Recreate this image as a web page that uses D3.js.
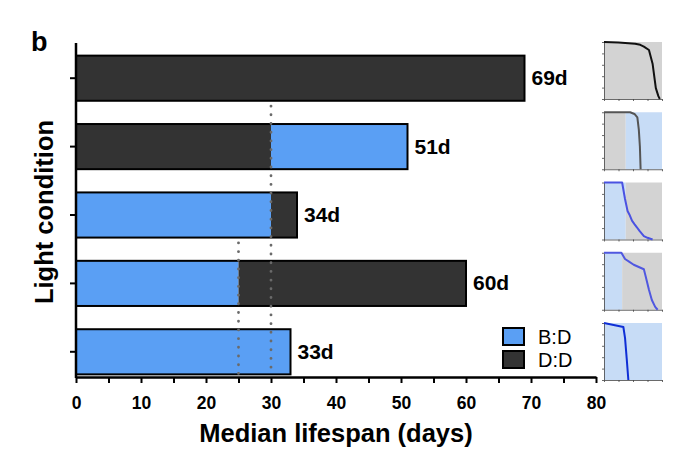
<!DOCTYPE html>
<html>
<head>
<meta charset="utf-8">
<script src="https://cdn.jsdelivr.net/npm/d3@7"></script>
<style>
  body { margin: 0; background: #fff; }
  svg { font-family: "Liberation Sans", Arial, sans-serif; }
</style>
</head>
<body>
<div id="chart"></div>
<script>

// rows from top to bottom
const conditions = ["D:D", "D:D to B:D", "B:D to D:D", "B:D to D:D (day 25)", "B:D"];
const firstLight = ["D:D", "D:D", "B:D", "B:D", "B:D"];
const switchDay = [null, 30, 30, 25, null];
const medianDays = [69, 51, 34, 60, 33];
const xTicks = [0, 10, 20, 30, 40, 50, 60, 70, 80];
const legendKeys = ["B:D", "D:D"];

// survival curves for the small panels: [day, fraction alive]
const curveDD = [[0, 1], [20, 0.99], [43, 0.97], [50, 0.95], [55, 0.92], [62, 0.86], [67, 0.62], [71.5, 0.19], [75, 0.05], [77, 0]];
const curveDDtoBD = [[0, 1], [36, 1], [42, 0.97], [46, 0.91], [48, 0.7], [49.5, 0.4], [50.5, 0]];
const curveBDtoDD = [[0, 1], [25, 1], [29, 0.71], [32.5, 0.5], [35, 0.44], [38.6, 0.33], [42, 0.27], [45.6, 0.21], [49, 0.15], [55, 0.06], [60, 0.03], [67, 0]];
const curveBD25 = [[0, 1], [24, 1], [29, 0.89], [34, 0.85], [41, 0.79], [48, 0.75], [55, 0.71], [57, 0.61], [62, 0.35], [66, 0.17], [70.6, 0.05], [74, 0]];
const curveBD = [[0, 1], [26.7, 0.93], [29, 0.74], [31.3, 0.38], [33.6, 0]];
const curves = [curveDD, curveDDtoBD, curveBDtoDD, curveBD25, curveBD];
const curveColors = ["#111111", "#555555", "#4a52e2", "#5058e0", "#0f2fd6"];

const fillColor = { "B:D": "#5a9ff4", "D:D": "#333333" };
const panelBg = { "B:D": "#c7dcf6", "D:D": "#d3d3d3" };

const width = 700, height = 460;
const margin = { top: 43, left: 76, bottom: 377, right: 596 };

const svg = d3.select("#chart").append("svg")
  .attr("width", width)
  .attr("height", height);

var x = d3.scaleLinear()
  .domain([0, 80])
  .range([margin.left, margin.right]);

var y = d3.scaleBand()
  .domain(conditions)
  .range([44, 386])
  .paddingInner(0.34)
  .paddingOuter(0.17);

// bar segments built from the arrays
const segments = [];
conditions.forEach(function(c, i) {
  const other = firstLight[i] == "B:D" ? "D:D" : "B:D";
  const cut = switchDay[i] == null ? medianDays[i] : switchDay[i];
  segments.push({ cond: c, from: 0, to: cut, light: firstLight[i] });
  if (switchDay[i] != null) {
    segments.push({ cond: c, from: cut, to: medianDays[i], light: other });
  }
});

svg.selectAll(".seg")
  .data(segments)
  .enter().append("rect")
  .attr("class", "seg")
  .attr("x", function(d) { return x(d.from); })
  .attr("y", function(d) { return y(d.cond); })
  .attr("width", function(d) { return x(d.to) - x(d.from); })
  .attr("height", y.bandwidth())
  .attr("fill", function(d) { return fillColor[d.light]; });

// outline of whole bar
svg.selectAll(".bar-outline")
  .data(conditions)
  .enter().append("rect")
  .attr("class", "bar-outline")
  .attr("x", x(0))
  .attr("y", function(d) { return y(d); })
  .attr("width", function(d, i) { return x(medianDays[i]) - x(0); })
  .attr("height", y.bandwidth())
  .attr("fill", "none")
  .attr("stroke", "#000")
  .attr("stroke-width", 2);

// dotted lines at the switch days
const switches = [];
conditions.forEach(function(c, i) {
  if (switchDay[i] != null && !switches.some(function(s) { return s.day == switchDay[i]; })) {
    switches.push({ day: switchDay[i], cond: c });
  }
});

svg.selectAll(".switch")
  .data(switches)
  .enter().append("line")
  .attr("class", "switch")
  .attr("x1", function(d) { return x(d.day); })
  .attr("x2", function(d) { return x(d.day); })
  .attr("y1", function(d) { return y(d.cond) - 18; })
  .attr("y2", margin.bottom - 2)
  .attr("stroke", "#6a6a6a")
  .attr("stroke-width", 2.8)
  .attr("stroke-linecap", "round")
  .attr("stroke-dasharray", "0.1,8.6");

// value labels
svg.selectAll(".val")
  .data(conditions)
  .enter().append("text")
  .attr("class", "val")
  .attr("x", function(d, i) { return x(medianDays[i]) + 7; })
  .attr("y", function(d) { return y(d) + y.bandwidth() / 2 + 7; })
  .attr("font-size", 21)
  .attr("font-weight", "bold")
  .text(function(d, i) { return medianDays[i] + "d"; });

// x axis
var xAxis = d3.axisBottom(x)
  .tickValues(d3.range(0, 81, 5))
  .tickSize(6)
  .tickSizeOuter(0)
  .tickFormat(function(d) { return xTicks.indexOf(d) >= 0 ? d : ""; });

const gx = svg.append("g")
  .attr("transform", "translate(0," + margin.bottom + ")")
  .call(xAxis);
gx.select(".domain").attr("stroke-width", 2.5);
gx.selectAll(".tick line").attr("stroke-width", 2);
gx.selectAll(".tick text")
  .attr("dy", "0.71em")
  .attr("y", 20)
  .attr("font-size", 17.5)
  .attr("font-weight", "bold")
  .attr("font-family", "Liberation Sans, Arial, sans-serif")
  .attr("fill", "#000");

// y axis
var yAxis = d3.axisLeft(y)
  .tickSize(6)
  .tickFormat("");

const gy = svg.append("g")
  .attr("transform", "translate(" + margin.left + ",0)")
  .call(yAxis);
gy.select(".domain").remove();
gy.selectAll(".tick line").attr("stroke-width", 2);
gy.append("line")
  .attr("x1", 0).attr("x2", 0)
  .attr("y1", margin.top)
  .attr("y2", margin.bottom + 1)
  .attr("stroke", "#000")
  .attr("stroke-width", 2.5);

// axis titles
svg.append("text")
  .attr("x", (x(0) + x(80)) / 2)
  .attr("y", 442)
  .attr("text-anchor", "middle")
  .attr("font-size", 25.5)
  .attr("font-weight", "bold")
  .text("Median lifespan (days)");

svg.append("text")
  .attr("transform", "translate(53," + 212 + ") rotate(-90)")
  .attr("text-anchor", "middle")
  .attr("font-size", 25.5)
  .attr("font-weight", "bold")
  .text("Light condition");

svg.append("text")
  .attr("x", 31)
  .attr("y", 51)
  .attr("font-size", 27)
  .attr("font-weight", "bold")
  .text("b");

// legend
const legend = svg.append("g")
  .attr("transform", "translate(503,328)");

legend.selectAll("rect")
  .data(legendKeys)
  .enter().append("rect")
  .attr("x", 0)
  .attr("y", function(d, i) { return i * 23; })
  .attr("width", 21)
  .attr("height", 17)
  .attr("fill", function(d) { return fillColor[d]; })
  .attr("stroke", "#000")
  .attr("stroke-width", 2);

legend.selectAll("text")
  .data(legendKeys)
  .enter().append("text")
  .attr("x", 35)
  .attr("y", function(d, i) { return i * 23 + 16; })
  .attr("font-size", 20)
  .text(function(d) { return d; });

// small survival panels
const px = d3.scaleLinear().domain([0, 80]).range([604, 662]);
const panelH = 57;
const panelTop = d3.scaleLinear().domain([0, 4]).range([42, 323]);

conditions.forEach(function(c, i) {
  const top = panelTop(i);
  const py = d3.scaleLinear().domain([0, 1]).range([top + panelH, top]);
  const g = svg.append("g").attr("class", "panel");

  const parts = [];
  if (switchDay[i] == null) {
    parts.push({ from: 0, to: 80, light: firstLight[i] });
  } else {
    parts.push({ from: 0, to: switchDay[i], light: firstLight[i] });
    parts.push({ from: switchDay[i], to: 80, light: firstLight[i] == "B:D" ? "D:D" : "B:D" });
  }

  g.selectAll("rect")
    .data(parts)
    .enter().append("rect")
    .attr("x", function(d) { return px(d.from); })
    .attr("y", top)
    .attr("width", function(d) { return px(d.to) - px(d.from); })
    .attr("height", panelH)
    .attr("fill", function(d) { return panelBg[d.light]; });

  g.append("g")
    .attr("transform", "translate(0," + (top + panelH) + ")")
    .call(d3.axisBottom(px).tickValues([0, 20, 40, 60, 80]).tickSize(2).tickSizeOuter(0).tickFormat(""));
  g.append("g")
    .attr("transform", "translate(604,0)")
    .call(d3.axisLeft(py).tickValues([0, 0.2, 0.4, 0.6, 0.8, 1]).tickSize(2).tickSizeOuter(0).tickFormat(""));
  g.selectAll(".domain, .tick line").attr("stroke", "#444").attr("stroke-width", 0.8);

  g.append("path")
    .datum(curves[i])
    .attr("fill", "none")
    .attr("stroke", curveColors[i])
    .attr("stroke-width", 2)
    .attr("stroke-linejoin", "round")
    .attr("d", d3.line()
      .x(function(d) { return px(d[0]); })
      .y(function(d) { return py(d[1]); }));
});

</script>
</body>
</html>
